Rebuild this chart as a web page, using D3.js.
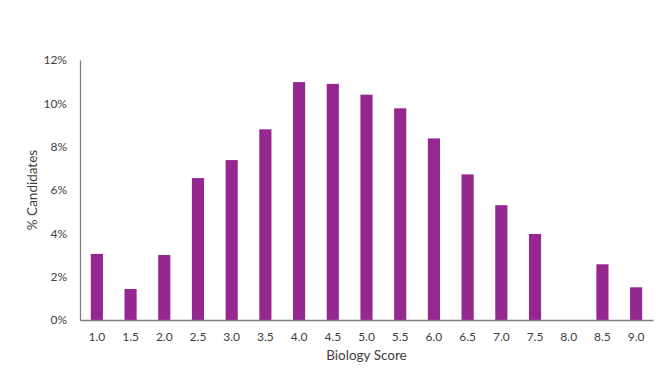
<!DOCTYPE html>
<html>
<head>
<meta charset="utf-8">
<script src="https://cdn.jsdelivr.net/npm/d3@7"></script>
<style>
  body { margin: 0; background: #fff; }
  text { font-family: Lato, "Open Sans", sans-serif; fill: #404040; }
</style>
</head>
<body>
<svg id="chart"></svg>
<script>
const width = 662;
const height = 386;
const margin = {top: 60, right: 9, bottom: 66, left: 80};

const scores = ["1.0", "1.5", "2.0", "2.5", "3.0", "3.5", "4.0", "4.5", "5.0",
                "5.5", "6.0", "6.5", "7.0", "7.5", "8.0", "8.5", "9.0"];
const percents = [3.05, 1.43, 3.0, 6.55, 7.38, 8.8, 10.98, 10.9, 10.4,
                  9.77, 8.38, 6.72, 5.3, 3.97, 0, 2.57, 1.51];
const yTicks = [0, 2, 4, 6, 8, 10, 12];

const data = scores.map((s, i) => ({score: s, pct: percents[i]}));

const svg = d3.select("#chart")
    .attr("width", width)
    .attr("height", height);

const xScale = d3.scaleBand()
    .domain(scores)
    .range([margin.left, width - margin.right])
    .paddingInner(0.64)
    .paddingOuter(0.32);

const yScale = d3.scaleLinear()
    .domain([0, 12])
    .range([height - margin.bottom, margin.top]);

svg.selectAll(".bar")
    .data(data)
    .enter()
    .append("rect")
    .attr("class", "bar")
    .attr("x", d => xScale(d.score))
    .attr("y", d => yScale(d.pct))
    .attr("width", xScale.bandwidth())
    .attr("height", d => yScale(0) - yScale(d.pct))
    .style("fill", "#952790");

const yAxis = d3.axisLeft(yScale)
    .tickValues(yTicks)
    .tickFormat(d => d + "%")
    .tickSize(0)
    .tickPadding(13);

const xAxis = d3.axisBottom(xScale)
    .tickSize(0)
    .tickPadding(12);

const gy = svg.append("g")
    .attr("transform", `translate(${margin.left}, 0)`)
    .call(yAxis);

const gx = svg.append("g")
    .attr("transform", `translate(0, ${height - margin.bottom})`)
    .call(xAxis);

[gx, gy].forEach(g => {
    g.select(".domain").attr("stroke", "#7f7f7f").attr("stroke-width", 1.3);
    g.selectAll("text").style("font-size", "12px").style("fill", "#404040");
});

// Axes Labels
svg.append("text")
    .attr("x", (margin.left + width - margin.right) / 2)
    .attr("y", 360)
    .attr("text-anchor", "middle")
    .style("font-size", "13.5px")
    .text("Biology Score");

svg.append("text")
    .attr("transform", "rotate(-90)")
    .attr("x", -(margin.top + height - margin.bottom) / 2)
    .attr("y", 37)
    .attr("text-anchor", "middle")
    .style("font-size", "13.5px")
    .text("% Candidates");
</script>
</body>
</html>
